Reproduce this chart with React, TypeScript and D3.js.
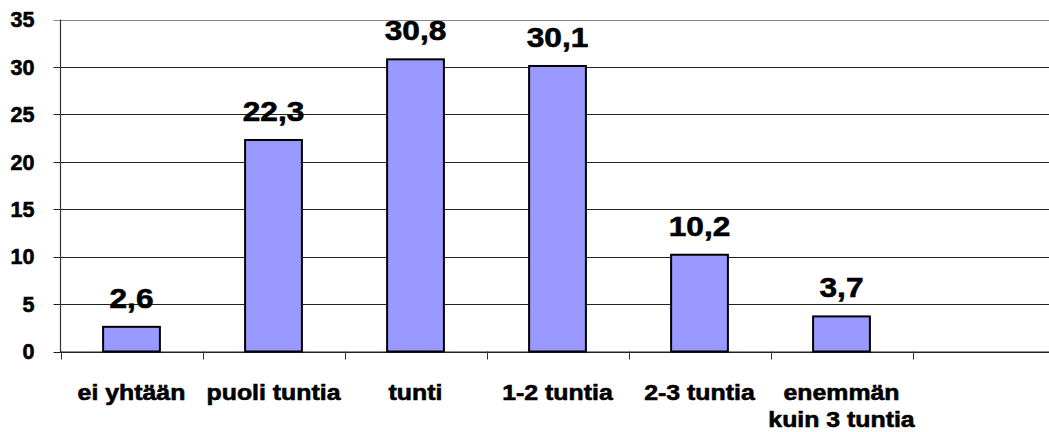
import React from "react";
import * as d3 from "d3";

const categories: string[][] = [
  ["ei yhtään"],
  ["puoli tuntia"],
  ["tunti"],
  ["1-2 tuntia"],
  ["2-3 tuntia"],
  ["enemmän", "kuin 3 tuntia"],
  [""],
];
const values: (number | null)[] = [2.6, 22.3, 30.8, 30.1, 10.2, 3.7, null];
const yTicks: number[] = [0, 5, 10, 15, 20, 25, 30, 35];

const W = 1049;
const H = 432;
const left = 60.5;
const bandW = 142;
const right = left + bandW * categories.length;
const top = 19.5;
const bottom = 351.5;
const FONT = "'Liberation Sans', Arial, sans-serif";

export default function App() {
  const x = d3
    .scaleBand<number>()
    .domain(d3.range(categories.length))
    .range([left, right])
    .paddingInner(0.6)
    .paddingOuter(0.3);
  const y = d3.scaleLinear().domain([0, 35]).range([bottom, top]);
  const fmt = (v: number) => v.toFixed(1).replace(".", ",");
  const sx = 1.13;
  const textStroke = { stroke: "#000", strokeWidth: 0.6 };

  return (
    <svg
      width={W}
      height={H}
      style={{ position: "absolute", left: 0, top: 0, background: "#fff" }}
    >
      {yTicks.map((t) => (
        <g key={t}>
          <line
            x1={left - 7}
            x2={W}
            y1={Math.round(y(t)) + 0.5}
            y2={Math.round(y(t)) + 0.5}
            stroke={t === 35 ? "#888" : "#222"}
            strokeWidth={1}
          />
          <text
            x={34.5}
            y={y(t)}
            dy="0.36em"
            textAnchor="end"
            fontFamily={FONT}
            fontWeight="bold"
            fontSize={21.5}
            fill="#000"
            {...textStroke}
          >
            {t}
          </text>
        </g>
      ))}
      <line x1={left} x2={left} y1={top} y2={bottom + 0.5} stroke="#333" strokeWidth={1.2} />
      <line x1={left} x2={W} y1={bottom + 0.5} y2={bottom + 0.5} stroke="#222" strokeWidth={1} />
      {d3.range(categories.length + 1).map((i) => {
        const xx = Math.round(left + i * bandW) + 0.5;
        return (
          <line key={i} x1={xx} x2={xx} y1={bottom} y2={bottom + 8} stroke="#333" strokeWidth={1} />
        );
      })}
      {values.map((v, i) =>
        v == null ? null : (
          <g key={i}>
            <rect
              x={x(i)!}
              y={y(v)}
              width={x.bandwidth()}
              height={bottom - y(v)}
              fill="#9999FF"
              stroke="#000"
              strokeWidth={2}
            />
            <g transform={`translate(${x(i)! + x.bandwidth() / 2},${y(v) - 19}) scale(${sx},1)`}>
              <text
                textAnchor="middle"
                fontFamily={FONT}
                fontWeight="bold"
                fontSize={28}
                fill="#000"
                {...textStroke}
              >
                {fmt(v)}
              </text>
            </g>
          </g>
        )
      )}
      {categories.map((lines, i) => (
        <g
          key={i}
          transform={`translate(${x(i)! + x.bandwidth() / 2},399.5) scale(${sx},1)`}
        >
          <text
            textAnchor="middle"
            fontFamily={FONT}
            fontWeight="bold"
            fontSize={22}
            fill="#000"
            {...textStroke}
          >
            {lines.map((l, j) => (
              <tspan key={j} x={0} dy={j === 0 ? 0 : 27.5}>
                {l}
              </tspan>
            ))}
          </text>
        </g>
      ))}
    </svg>
  );
}
